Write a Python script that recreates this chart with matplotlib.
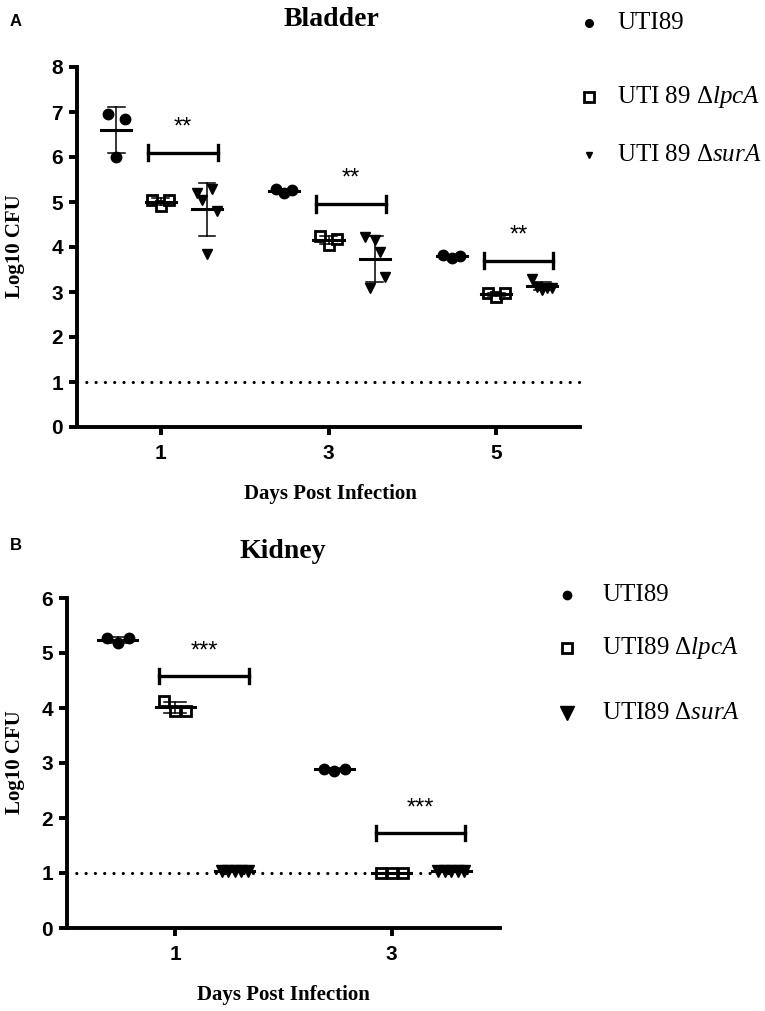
import numpy as np
import matplotlib.pyplot as plt
from matplotlib.lines import Line2D

plt.rcParams['mathtext.fontset'] = 'custom'
plt.rcParams['mathtext.rm'] = 'Liberation Serif'
plt.rcParams['mathtext.it'] = 'Liberation Serif:italic'

SANS = 'Liberation Sans'
SERIF = 'Liberation Serif'

# Bladder (panel A), log10 CFU per mouse
days_a = [1, 3, 5]
bladder_wt = [[6.95, 6.0, 6.85], [5.28, 5.2, 5.27], [3.82, 3.75, 3.8]]
bladder_lpca = [[5.05, 4.92, 5.05], [4.24, 4.05, 4.18], [2.97, 2.9, 2.97]]
bladder_sura = [[5.2, 5.05, 3.85, 5.3, 4.8],
                [4.22, 3.09, 4.16, 3.88, 3.33],
                [3.28, 3.12, 3.05, 3.1, 3.08]]
sig_y_a = [6.1, 4.95, 3.7]
sig_lab_a = ['**', '**', '**']

# Kidney (panel B)
days_b = [1, 3]
kidney_wt = [[5.27, 5.18, 5.27], [2.9, 2.85, 2.9]]
kidney_lpca = [[4.13, 3.95, 3.95], [1.0, 1.0, 1.0]]
kidney_sura = [[1.03, 1.03, 1.03, 1.03, 1.03], [1.03, 1.03, 1.03, 1.03, 1.03]]
sig_y_b = [4.58, 1.73]
sig_lab_b = ['***', '***']

limit_detect = 1.0

legend_a = ['UTI89', r'UTI 89 Δ$\mathit{lpcA}$', r'UTI 89 Δ$\mathit{surA}$']
legend_b = ['UTI89', r'UTI89 Δ$\mathit{lpcA}$', r'UTI89 Δ$\mathit{surA}$']

offsets = [-0.53, 0.0, 0.55]
styles = [dict(marker='o', mfc='black', mec='black', ms=7.5, mew=1),
          dict(marker='s', mfc='white', mec='black', ms=7, mew=2),
          dict(marker='v', mfc='black', mec='black', ms=7, mew=1)]


def draw_panel(ax, days, series, sig_y, sig_lab, xmax, ymax, tri_ms):
    for d_i, day in enumerate(days):
        for g_i, grp in enumerate(series):
            vals = np.array(grp[d_i])
            xc = day + offsets[g_i]
            n = len(vals)
            jit = np.linspace(-0.1, 0.1, n) if n < 5 else np.linspace(-0.12, 0.12, n)
            st = dict(styles[g_i])
            if g_i == 2:
                st['ms'] = tri_ms
            ax.plot(xc + jit, vals, ls='none', zorder=3, **st)
            m = vals.mean()
            sd = vals.std(ddof=1)
            ax.plot([xc - 0.18, xc + 0.18], [m, m], color='black', lw=2.2, zorder=4)
            ax.plot([xc, xc], [m - sd, m + sd], color='black', lw=1.1, zorder=4)
            for yy in (m - sd, m + sd):
                ax.plot([xc - 0.1, xc + 0.1], [yy, yy], color='black', lw=1.1, zorder=4)
        # significance bracket
        x0, x1 = day - 0.15, day + 0.68
        y = sig_y[d_i]
        h = ymax * 0.022
        ax.plot([x0, x1], [y, y], color='black', lw=2.4)
        ax.plot([x0, x0], [y - h, y + h], color='black', lw=2.4)
        ax.plot([x1, x1], [y - h, y + h], color='black', lw=2.4)
        ax.text((x0 + x1) / 2, y + ymax * 0.04, sig_lab[d_i], ha='center', va='bottom',
                fontsize=17, family=SANS)

    ax.set_xlim(0, xmax)
    ax.set_ylim(0, ymax)
    ax.set_xticks(days)
    ax.set_yticks(range(0, ymax + 1))
    for s in ['top', 'right']:
        ax.spines[s].set_visible(False)
    for s in ['left', 'bottom']:
        ax.spines[s].set_linewidth(2.8)
    ax.tick_params(width=2.8, length=6, labelsize=15, pad=4)
    ax.tick_params(axis='x', pad=6)
    for lab in ax.get_xticklabels() + ax.get_yticklabels():
        lab.set_family(SANS)
        lab.set_fontweight('bold')


fig = plt.figure(figsize=(7.65, 10.11), dpi=100)
W, H = 765.0, 1011.0

ax_a = fig.add_axes([77 / W, 1 - 427 / H, 503 / W, 360 / H])
draw_panel(ax_a, days_a, [bladder_wt, bladder_lpca, bladder_sura], sig_y_a, sig_lab_a,
           6, 8, 7)
ax_a.plot([0, 6], [limit_detect, limit_detect], color='black', lw=2.3,
          ls=(0, (0.01, 2.9)), dash_capstyle='round', clip_on=False)

ax_b = fig.add_axes([67 / W, 1 - 928 / H, 433 / W, 330 / H])
draw_panel(ax_b, days_b, [kidney_wt, kidney_lpca, kidney_sura], sig_y_b, sig_lab_b,
           4, 6, 9)
ax_b.plot([0, 3.75], [limit_detect, limit_detect], color='black', lw=2.3,
          ls=(0, (0.01, 2.9)), dash_capstyle='round', zorder=2)

# titles and labels
fig.text(332 / W, 1 - 19 / H, 'Bladder', ha='center', va='center', family=SERIF,
         fontweight='bold', fontsize=20)
fig.text(283 / W, 1 - 551 / H, 'Kidney', ha='center', va='center', family=SERIF,
         fontweight='bold', fontsize=20)
fig.text(10 / W, 1 - 22 / H, 'A', ha='left', va='center', family=SANS,
         fontweight='bold', fontsize=12)
fig.text(10 / W, 1 - 546 / H, 'B', ha='left', va='center', family=SANS,
         fontweight='bold', fontsize=12)
fig.text(15 / W, 1 - 246 / H, 'Log10 CFU', rotation=90, ha='center', va='center',
         family=SERIF, fontweight='bold', fontsize=15)
fig.text(15 / W, 1 - 762 / H, 'Log10 CFU', rotation=90, ha='center', va='center',
         family=SERIF, fontweight='bold', fontsize=15)
fig.text(330 / W, 1 - 494 / H, 'Days Post Infection', ha='center', va='center',
         family=SERIF, fontweight='bold', fontsize=15)
fig.text(283 / W, 1 - 995 / H, 'Days Post Infection', ha='center', va='center',
         family=SERIF, fontweight='bold', fontsize=15)

# legends drawn by hand to follow the uneven spacing
leg_a_y = [23, 97, 155]
leg_b_y = [595, 648, 713]
leg_ms_a = [5.5, 6.5, 5]
leg_ms_b = [6, 7, 9.5]
for i, lab in enumerate(legend_a):
    st = dict(styles[i])
    st['ms'] = leg_ms_a[i]
    fig.add_artist(Line2D([589 / W], [1 - leg_a_y[i] / H], transform=fig.transFigure,
                          ls='none', **st))
    fig.text(617 / W, 1 - leg_a_y[i] / H, lab, ha='left', va='center', family=SERIF,
             fontsize=18)
for i, lab in enumerate(legend_b):
    st = dict(styles[i])
    st['ms'] = leg_ms_b[i]
    fig.add_artist(Line2D([567 / W], [1 - leg_b_y[i] / H], transform=fig.transFigure,
                          ls='none', **st))
    fig.text(602 / W, 1 - leg_b_y[i] / H, lab, ha='left', va='center', family=SERIF,
             fontsize=18)

fig.savefig('out.png', dpi=100)
